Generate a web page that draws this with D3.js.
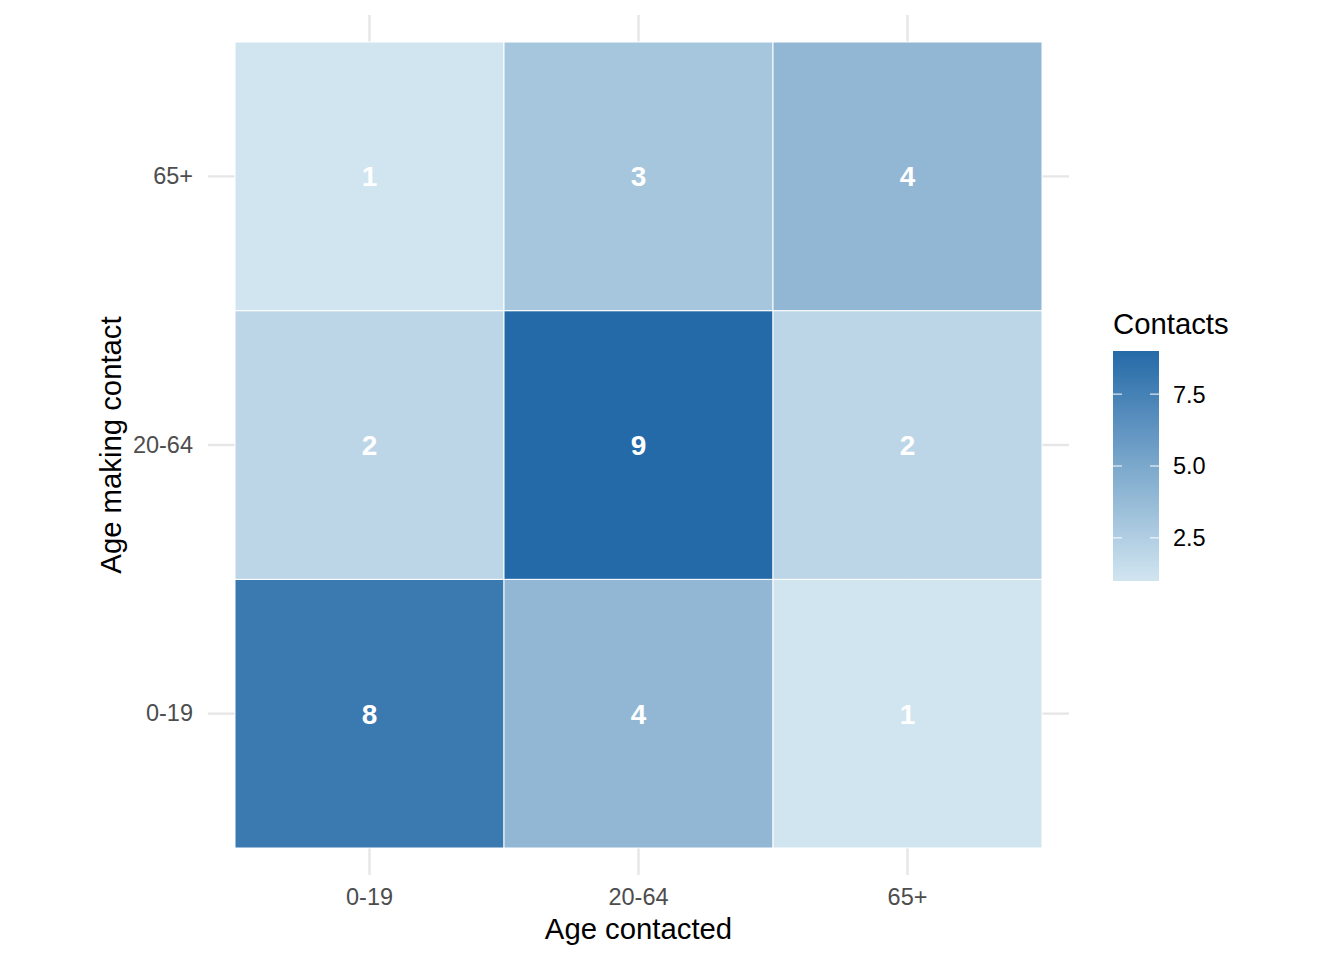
<!DOCTYPE html>
<meta charset="utf-8">
<script src="https://cdn.jsdelivr.net/npm/d3@7"></script>
<style>
  body { margin: 0; background: #fff; }
  text { font-family: "Liberation Sans", Arial, sans-serif; }
</style>
<body>
<div id="chart"></div>
<script>
  // age groups, bottom to top for the y axis
  var ageGroups = ["0-19", "20-64", "65+"];
  // one array per "age making contact" row, values by "age contacted"
  var contacts019 = [8, 4, 1];
  var contacts2064 = [2, 9, 2];
  var contacts65 = [1, 3, 4];
  var legendTicks = [2.5, 5.0, 7.5];

  var rows = [contacts019, contacts2064, contacts65];
  var cells = [];
  rows.forEach(function(r, i) {
    r.forEach(function(v, j) {
      cells.push({maker: ageGroups[i], contacted: ageGroups[j], value: v});
    });
  });

  var W = 1344, H = 960;
  var svg = d3.select("#chart").append("svg")
      .attr("width", W).attr("height", H);

  var x = d3.scaleBand().domain(ageGroups).range([235, 1042]);
  var y = d3.scaleBand().domain(ageGroups).range([848, 42]);
  var pad = 27;

  var color = d3.scaleLinear()
      .domain([1, 9])
      .range(["#d1e5f0", "#256aa8"])
      .interpolate(d3.interpolateRgb);

  // grid lines
  svg.selectAll(".vgrid").data(ageGroups).enter().append("line")
    .attr("x1", function(d) { return x(d) + x.bandwidth() / 2; })
    .attr("x2", function(d) { return x(d) + x.bandwidth() / 2; })
    .attr("y1", 42 - pad).attr("y2", 848 + pad)
    .style("stroke", "#e6e6e6").style("stroke-width", 2.4);
  svg.selectAll(".hgrid").data(ageGroups).enter().append("line")
    .attr("y1", function(d) { return y(d) + y.bandwidth() / 2; })
    .attr("y2", function(d) { return y(d) + y.bandwidth() / 2; })
    .attr("x1", 235 - pad).attr("x2", 1042 + pad)
    .style("stroke", "#e6e6e6").style("stroke-width", 2.4);

  // tiles
  svg.selectAll(".tile").data(cells).enter().append("rect")
    .attr("x", function(d) { return x(d.contacted); })
    .attr("y", function(d) { return y(d.maker); })
    .attr("width", x.bandwidth())
    .attr("height", y.bandwidth())
    .style("fill", function(d) { return color(d.value); })
    .style("stroke", "white").style("stroke-width", 1);

  svg.selectAll(".lab").data(cells).enter().append("text")
    .attr("x", function(d) { return x(d.contacted) + x.bandwidth() / 2; })
    .attr("y", function(d) { return y(d.maker) + y.bandwidth() / 2; })
    .attr("dy", "0.36em")
    .attr("text-anchor", "middle")
    .style("font-size", "28px").style("font-weight", "bold")
    .style("fill", "white")
    .text(function(d) { return d.value; });

  // axes (labels only)
  var xAxis = svg.append("g").attr("transform", "translate(0," + (848 + pad) + ")")
    .call(d3.axisBottom(x).tickSize(0).tickPadding(13));
  var yAxis = svg.append("g").attr("transform", "translate(" + (235 - pad) + ",0)")
    .call(d3.axisLeft(y).tickSize(0).tickPadding(15));
  [xAxis, yAxis].forEach(function(a) {
    a.select(".domain").remove();
    a.selectAll("text").style("font-size", "23.5px").style("fill", "#4d4d4d")
      .style("font-family", "Liberation Sans, Arial, sans-serif");
  });

  svg.append("text")
    .attr("x", 638.5).attr("y", 939)
    .attr("text-anchor", "middle")
    .style("font-size", "29.3px")
    .text("Age contacted");
  svg.append("text")
    .attr("transform", "translate(121,445)rotate(-90)")
    .attr("text-anchor", "middle")
    .style("font-size", "29.3px")
    .text("Age making contact");

  // legend colour bar
  var lx = 1113, lw = 46;
  var ly = d3.scaleLinear().domain([1, 9]).range([581, 351]);
  var defs = svg.append("defs");
  var grad = defs.append("linearGradient").attr("id", "grad")
    .attr("x1", 0).attr("y1", 1).attr("x2", 0).attr("y2", 0);
  d3.range(0, 1.0001, 0.1).forEach(function(t) {
    grad.append("stop").attr("offset", t)
      .attr("stop-color", color(1 + 8 * t));
  });
  svg.append("rect")
    .attr("x", lx).attr("y", ly(9))
    .attr("width", lw).attr("height", ly(1) - ly(9))
    .style("fill", "url(#grad)");

  var lg = svg.selectAll(".ltick").data(legendTicks).enter().append("g");
  lg.append("line")
    .attr("x1", lx).attr("x2", lx + 9)
    .attr("y1", function(d) { return ly(d); }).attr("y2", function(d) { return ly(d); })
    .style("stroke", "white").style("stroke-width", 1);
  lg.append("line")
    .attr("x1", lx + lw - 9).attr("x2", lx + lw)
    .attr("y1", function(d) { return ly(d); }).attr("y2", function(d) { return ly(d); })
    .style("stroke", "white").style("stroke-width", 1);
  lg.append("text")
    .attr("x", lx + lw + 14)
    .attr("y", function(d) { return ly(d); })
    .attr("dy", "0.36em")
    .style("font-size", "23.5px")
    .text(function(d) { return d.toFixed(1); });

  svg.append("text")
    .attr("x", lx).attr("y", 334)
    .style("font-size", "29.3px")
    .text("Contacts");
</script>
</body>
